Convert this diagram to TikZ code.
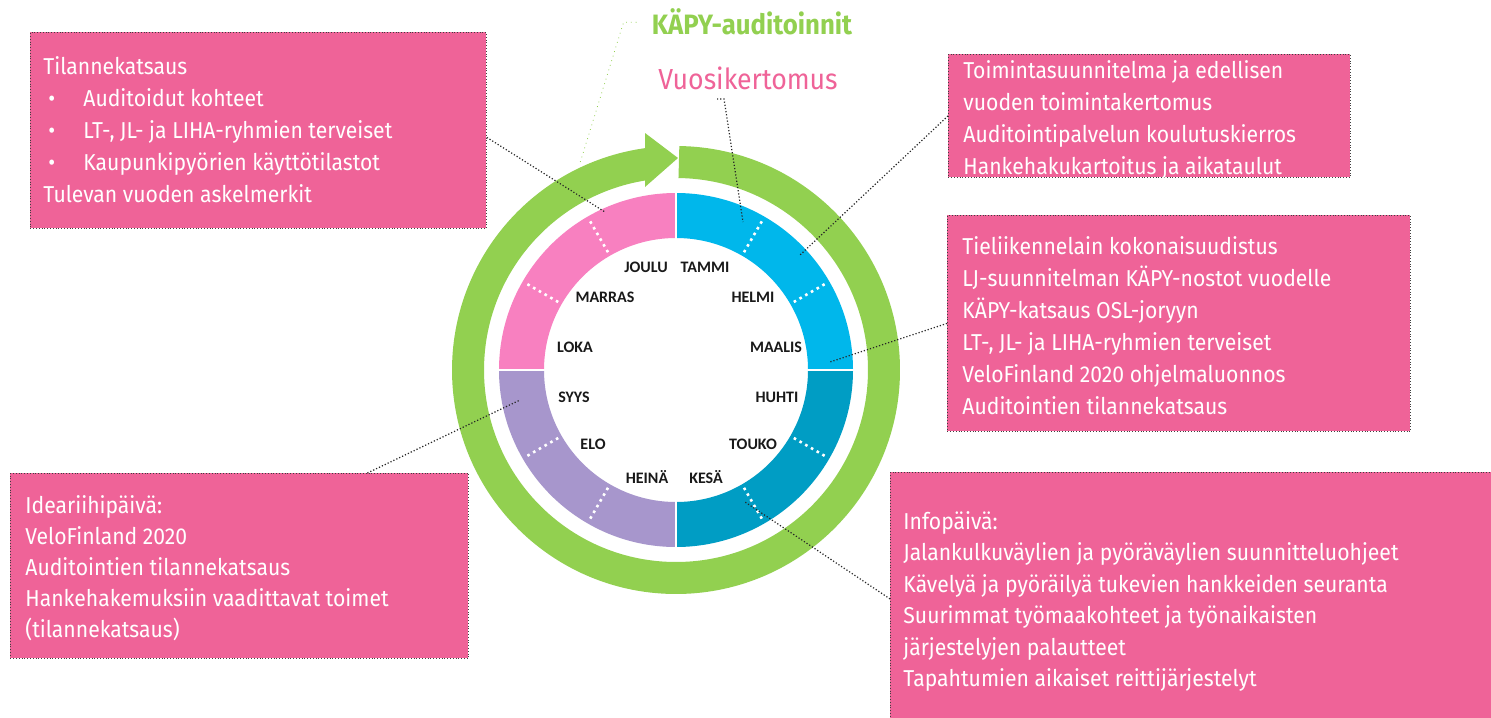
\documentclass[tikz,border=0pt]{standalone}
\usepackage{fontspec}
\setmainfont{Fira Sans}[FakeStretch=0.92]
\newfontfamily\monthfont{Carlito}
\usetikzlibrary{calc}

\definecolor{boxpink}{RGB}{239,99,152}
\definecolor{quartpink}{RGB}{248,128,192}
\definecolor{quartsky}{RGB}{0,183,235}
\definecolor{quartteal}{RGB}{0,157,196}
\definecolor{quartlav}{RGB}{167,150,204}
\definecolor{ringgreen}{RGB}{146,208,80}

\tikzset{
  infobox/.style={draw=black!75, densely dotted, fill=boxpink, anchor=north west, inner sep=0pt},
  infotext/.style={anchor=north west, inner sep=0pt, align=left, text=white, font=\fontsize{11.5}{16}\selectfont},
  month/.style={anchor=base, inner sep=0pt, text=black!90, font=\monthfont\bfseries\fontsize{8}{9}\selectfont},
  callout/.style={densely dotted, black!85, line width=0.6pt},
}

\begin{document}
\begin{tikzpicture}[x=0.5pt,y=0.5pt]
        \useasboundingbox (0,0) rectangle (1491,-717);
        \fill[white] (0,0) rectangle (1491,-717);
        \clip (0,0) rectangle (1491,-717);

        % Vuosikello
        \begin{scope}[shift={(676,-370)}]
            \fill[quartsky] (0:177) arc (0:90:177) -- (90:132) arc (90:0:132) -- cycle;
            \fill[quartpink] (90:177) arc (90:180:177) -- (180:132) arc (180:90:132) -- cycle;
            \fill[quartlav] (180:177) arc (180:270:177) -- (270:132) arc (270:180:132) -- cycle;
            \fill[quartteal] (270:177) arc (270:360:177) -- (0:132) arc (360:270:132) -- cycle;
            \draw[white, line width=1.2pt] (0:128) -- (0:181) (90:128) -- (90:181)
                (180:128) -- (180:181) (270:128) -- (270:181);
            \foreach \a in {30,60,120,150,210,240,300,330}
                \draw[white, dotted, line width=1.3pt] (\a:136) -- (\a:172);

            % Green cycle
            \draw[ringgreen, line width=16pt] (89.2:208) arc (89.2:-263:208);
        \end{scope}
        \fill[ringgreen] (645,-133) -- (678,-158) -- (645,-187) -- cycle;

        % Months
        \node[month] (m-joulu) at (646,-272) {JOULU};
        \node[month] (m-tammi) at (705,-272) {TAMMI};
        \node[month] (m-marras) at (605,-302) {MARRAS};
        \node[month] (m-helmi) at (753,-302) {HELMI};
        \node[month] (m-loka) at (575,-352) {LOKA};
        \node[month] (m-maalis) at (776,-352) {MAALIS};
        \node[month] (m-syys) at (574,-402) {SYYS};
        \node[month] (m-huhti) at (777,-402) {HUHTI};
        \node[month] (m-elo) at (593,-449) {ELO};
        \node[month] (m-touko) at (753,-449) {TOUKO};
        \node[month] (m-heina) at (647,-483) {HEINÄ};
        \node[month] (m-kesa) at (706,-483) {KESÄ};

        % Titles
        \node[anchor=base, inner xsep=7.5pt, inner ysep=0pt, text=ringgreen,
              font=\bfseries\fontsize{14}{17}\selectfont] (kapy) at (752,-35) {KÄPY-auditoinnit};
        \node[anchor=base, inner sep=0pt, text=boxpink,
              font=\fontsize{14.5}{17}\selectfont] (vuosi) at (748,-90) {Vuosikertomus};

        % Tilannekatsaus
        \node[infobox, minimum width=228pt, minimum height=98pt] (tila) at (30,-32) {};
        \node[infotext] (tila-txt) at (43,-56) {Tilannekatsaus\\
            \makebox[20pt][l]{\hspace{2.5pt}\textbullet}Auditoidut kohteet\\
            \makebox[20pt][l]{\hspace{2.5pt}\textbullet}LT-, JL- ja LIHA-ryhmien terveiset\\
            \makebox[20pt][l]{\hspace{2.5pt}\textbullet}Kaupunkipyörien käyttötilastot\\
            Tulevan vuoden askelmerkit};

        % Toimintasuunnitelma
        \node[infobox, minimum width=201pt, minimum height=61.5pt] (toim) at (948,-54) {};
        \node[infotext] (toim-txt) at (963,-60) {Toimintasuunnitelma ja edellisen\\
            vuoden toimintakertomus\\
            Auditointipalvelun koulutuskierros\\
            Hankehakukartoitus ja aikataulut};

        % Tieliikennelaki
        \node[infobox, minimum width=231.5pt, minimum height=108pt] (tiel) at (947,-215) {};
        \node[infotext] (tiel-txt) at (962,-236) {Tieliikennelain kokonaisuudistus\\
            LJ-suunnitelman KÄPY-nostot vuodelle\\
            KÄPY-katsaus OSL-joryyn\\
            LT-, JL- ja LIHA-ryhmien terveiset\\
            VeloFinland 2020 ohjelmaluonnos\\
            Auditointien tilannekatsaus};

        % Ideariihi
        \node[infobox, minimum width=229pt, minimum height=92.5pt] (idea) at (10,-473) {};
        \node[infotext, font=\fontsize{11.5}{15.5}\selectfont] (idea-txt) at (25,-495) {Ideariihipäivä:\\
            VeloFinland 2020\\
            Auditointien tilannekatsaus\\
            Hankehakemuksiin vaadittavat toimet\\
            (tilannekatsaus)};

        % Infopaiva
        \node[infobox, minimum width=305pt, minimum height=126.5pt] (info) at (890,-472) {};
        \node[infotext, font=\fontsize{11.5}{15.75}\selectfont] (info-txt) at (903,-511) {Infopäivä:\\
            Jalankulkuväylien ja pyöräväylien suunnitteluohjeet\\
            Kävelyä ja pyöräilyä tukevien hankkeiden seuranta\\
            Suurimmat työmaakohteet ja työnaikaisten\\
            järjestelyjen palautteet\\
            Tapahtumien aikaiset reittijärjestelyt};

        % Callouts
        \coordinate (c-tila) at (605,-212);
        \coordinate (c-kapy) at (580,-163);
        \coordinate (c-vuosi) at (743,-222);
        \coordinate (c-toim) at (800,-255);
        \coordinate (c-tiel) at (830,-362);
        \coordinate (c-idea) at (520,-400);
        \coordinate (c-info) at (745,-502);
        \draw[callout] ([yshift=-3.5pt]tila.east) -- (c-tila);
        \draw[ringgreen, dotted, line width=0.4pt] (kapy.west) -- ++(-13,0) -- (c-kapy);
        \draw[callout] ([xshift=-15.5pt,yshift=-4.5pt]vuosi.base) -- ++(7,0) -- (c-vuosi);
        \draw[callout] (toim.west) -- (c-toim);
        \draw[callout] (tiel.west) -- (c-tiel);
        \draw[callout] ([xshift=64pt]idea.north) -- (c-idea);
        \draw[callout] (info.west) -- (c-info);
\end{tikzpicture}
\end{document}
